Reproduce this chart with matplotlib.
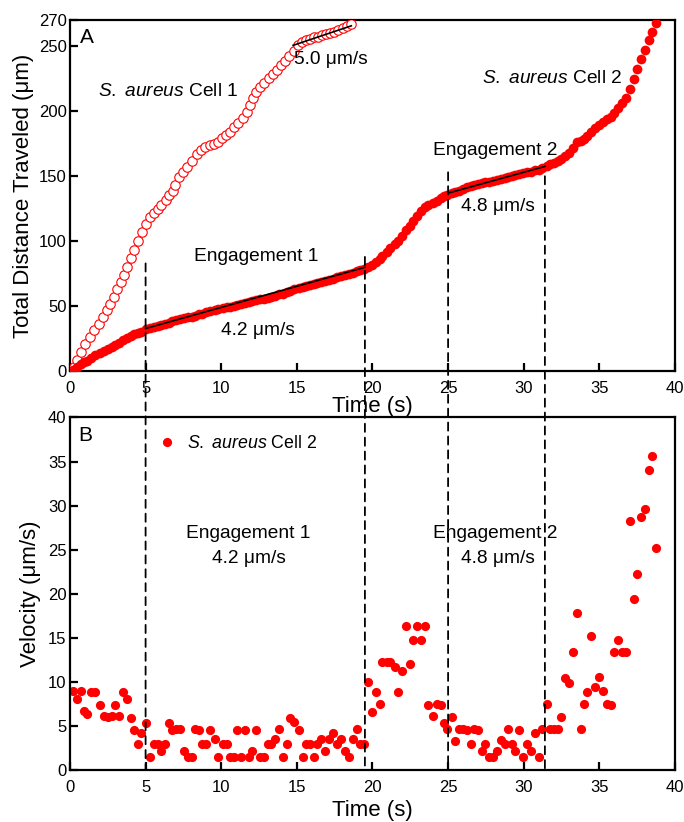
import numpy
import matplotlib.pyplot as plt
from matplotlib.patches import ConnectionPatch

plt.rcParams['font.family'] = ['Liberation Sans', 'DejaVu Sans']
plt.rcParams['mathtext.fontset'] = 'custom'
plt.rcParams['mathtext.rm'] = 'Liberation Sans'
plt.rcParams['mathtext.it'] = 'Liberation Sans:italic'

# S. aureus cell 1: total distance (um) vs time (s)
time_cell1 = [0.24, 0.46, 0.73, 1.00, 1.34, 1.60, 1.90, 2.18, 2.45, 2.66,
              2.88, 3.10, 3.37, 3.59, 3.77, 4.03, 4.25, 4.51, 4.76, 5.04,
              5.26, 5.53, 5.79, 6.01, 6.32, 6.58, 6.78, 6.96, 7.18, 7.47,
              7.77, 8.06, 8.39, 8.66, 8.94, 9.23, 9.49, 9.76, 10.05, 10.31,
              10.60, 10.86, 11.14, 11.43, 11.70, 11.92, 12.10, 12.31, 12.58, 12.84,
              13.13, 13.42, 13.68, 13.95, 14.23, 14.51, 14.78, 15.05, 15.32, 15.59,
              15.86, 16.13, 16.40, 16.67, 16.94, 17.21, 17.48, 17.75, 18.02, 18.29,
              18.56]
distance_cell1 = [3.3, 9.0, 14.8, 21.3, 26.4, 31.5, 36.7, 41.8, 46.9, 52.0,
                  57.2, 63.6, 68.7, 73.8, 80.2, 87.4, 93.6, 100.2, 107.2, 113.6,
                  118.7, 121.8, 125.1, 128.2, 131.5, 135.4, 139.0, 143.0, 149.5, 153.3,
                  157.2, 161.8, 167.4, 170.5, 172.5, 173.8, 175.1, 176.4, 179.0, 181.5,
                  184.1, 187.5, 191.0, 194.4, 199.5, 204.6, 209.8, 214.8, 218.7, 221.8,
                  225.1, 228.5, 231.5, 235.4, 238.7, 242.3, 246.5, 250.5, 253.0, 254.6,
                  255.7, 256.6, 257.3, 258.1, 258.9, 259.8, 260.9, 262.2, 263.6, 265.1,
                  266.9]

# S. aureus cell 2: time (s), total distance (um), velocity (um/s)
time_cell2 = [0.18, 0.45, 0.70, 0.90, 1.10, 1.38, 1.65, 1.96, 2.22, 2.49,
              2.76, 3.00, 3.27, 3.51, 3.78, 4.04, 4.25, 4.49, 4.71, 5.00,
              5.29, 5.56, 5.82, 6.04, 6.27, 6.53, 6.76, 7.02, 7.30, 7.51,
              7.78, 8.04, 8.27, 8.53, 8.76, 9.02, 9.29, 9.56, 9.78, 10.09,
              10.36, 10.58, 10.84, 11.02, 11.29, 11.56, 11.82, 12.04, 12.31, 12.58,
              12.84, 13.07, 13.29, 13.56, 13.82, 14.09, 14.36, 14.58, 14.84, 15.11,
              15.38, 15.60, 15.87, 16.13, 16.36, 16.62, 16.89, 17.11, 17.38, 17.64,
              17.91, 18.18, 18.44, 18.70, 18.95, 19.20, 19.45, 19.73, 19.95, 20.22,
              20.48, 20.66, 20.93, 21.19, 21.46, 21.70, 21.94, 22.20, 22.47, 22.69,
              22.95, 23.22, 23.48, 23.70, 23.97, 24.24, 24.50, 24.72, 24.94, 25.23,
              25.47, 25.70, 25.96, 26.23, 26.49, 26.71, 26.97, 27.22, 27.46, 27.72,
              27.99, 28.25, 28.48, 28.74, 28.96, 29.23, 29.44, 29.71, 29.97, 30.24,
              30.50, 30.73, 30.99, 31.21, 31.52, 31.74, 32.01, 32.27, 32.49, 32.72,
              32.98, 33.24, 33.51, 33.77, 33.99, 34.21, 34.45, 34.74, 35.00, 35.23,
              35.50, 35.76, 35.98, 36.25, 36.51, 36.78, 37.00, 37.26, 37.52, 37.78,
              38.02, 38.27, 38.50, 38.75]
distance_cell2 = [1.5, 3.5, 5.5, 7.0, 8.3, 10.3, 12.3, 14.3, 15.8, 17.3,
                  18.9, 20.5, 22.0, 24.0, 26.0, 27.5, 28.5, 29.5, 30.5, 32.5,
                  33.6, 34.4, 35.2, 35.8, 36.6, 37.6, 38.5, 39.4, 40.3, 40.9,
                  41.5, 42.1, 42.9, 43.8, 44.5, 45.3, 46.3, 47.2, 47.7, 48.6,
                  49.4, 49.9, 50.4, 51.2, 51.7, 52.6, 53.1, 54.0, 54.9, 55.4,
                  55.9, 56.7, 57.4, 58.3, 59.3, 59.8, 60.7, 61.9, 63.2, 64.3,
                  64.8, 65.6, 66.4, 66.9, 67.8, 68.8, 69.4, 70.3, 71.4, 72.3,
                  73.2, 73.9, 74.5, 75.5, 76.8, 77.7, 78.6, 80.5, 82.0, 84.3,
                  86.3, 88.5, 91.8, 95.0, 98.2, 100.4, 104.0, 108.5, 112.0, 115.5,
                  119.5, 123.0, 126.5, 127.9, 129.4, 131.3, 133.2, 134.4, 135.4, 137.1,
                  137.9, 139.0, 140.2, 141.4, 142.1, 143.1, 144.3, 144.8, 145.5, 145.9,
                  146.3, 146.9, 147.7, 148.4, 149.4, 150.2, 150.7, 151.9, 152.3, 153.1,
                  153.6, 154.6, 155.0, 156.0, 158.2, 159.2, 160.5, 161.7, 163.0, 165.4,
                  168.0, 171.4, 176.0, 177.2, 178.8, 180.8, 184.3, 187.0, 189.7, 191.8,
                  193.8, 195.7, 198.6, 202.6, 206.1, 209.7, 217.0, 225.0, 232.0, 240.0,
                  247.0, 255.0, 261.0, 268.0]
velocity_cell2 = [9.0, 8.0, 9.0, 6.7, 6.4, 8.9, 8.9, 7.4, 6.1, 6.0,
                  6.1, 7.4, 6.1, 8.9, 8.0, 5.9, 4.5, 3.0, 4.2, 5.3,
                  1.5, 3.0, 3.0, 2.1, 3.0, 5.3, 4.5, 4.7, 4.7, 2.1,
                  1.5, 1.5, 4.7, 4.5, 3.0, 3.0, 4.5, 3.5, 1.5, 3.0,
                  3.0, 1.5, 1.5, 4.5, 1.5, 4.5, 1.5, 2.1, 4.5, 1.5,
                  1.5, 3.0, 3.0, 3.5, 4.7, 1.5, 3.0, 5.9, 5.4, 4.5,
                  1.5, 3.0, 3.0, 1.5, 3.0, 3.5, 2.1, 3.5, 4.2, 3.0,
                  3.5, 2.1, 1.5, 3.5, 4.7, 2.9, 2.9, 10.0, 6.6, 8.9,
                  7.5, 12.2, 12.2, 12.2, 11.7, 8.9, 11.2, 16.3, 12.0, 14.8,
                  16.3, 14.8, 16.3, 7.4, 6.1, 7.5, 7.4, 5.3, 4.7, 6.0,
                  3.3, 4.7, 4.7, 4.5, 2.9, 4.7, 4.5, 2.1, 2.9, 1.5,
                  1.5, 2.1, 3.4, 2.9, 4.7, 2.9, 2.1, 4.5, 1.5, 2.9,
                  2.1, 4.2, 1.5, 4.7, 7.5, 4.7, 4.7, 4.7, 6.0, 10.4,
                  9.9, 13.4, 17.8, 4.7, 7.5, 8.9, 15.2, 9.4, 10.5, 9.0,
                  7.5, 7.4, 13.4, 14.8, 13.4, 13.4, 28.2, 19.4, 22.2, 28.7,
                  29.6, 34.0, 35.6, 25.2]

# linear fits over the engagement windows: (t_start, d_start, t_end, d_end)
fit_cell1 = [14.75, 250.5, 18.6, 265.5]
fit_engagement1 = [5.0, 33.0, 19.5, 80.0]
fit_engagement2 = [25.0, 137.0, 31.4, 157.5]

# engagement boundaries (s) and where each dashed marker starts in panel A (um)
boundary_times = [5.0, 19.5, 25.0, 31.4]
boundary_tops = [83, 88, 153, 150]

red = '#ff0000'
label_size = 16
text_size = 13.8
tick_size = 12
cell1_label = r'$\mathit{S.}$ $\mathit{aureus}$ Cell 1'
cell2_label = r'$\mathit{S.}$ $\mathit{aureus}$ Cell 2'


def style_axis(ax, xticks, yticks):
    for spine in ax.spines.values():
        spine.set_linewidth(1.6)
    ax.set_xticks(xticks)
    ax.set_yticks(yticks)
    ax.tick_params(direction='in', length=5.5, width=1.6, labelsize=tick_size)
    ax.tick_params(axis='x', pad=7.0)
    ax.tick_params(axis='y', pad=2.5)
    ax.set_xlim(0, 40)


fig = plt.figure(figsize=(6.84, 8.22), dpi=100)
ax_a = fig.add_axes([0.1023, 0.5481, 0.8845, 0.4276])
ax_b = fig.add_axes([0.1023, 0.0633, 0.8845, 0.4288])

# panel A: distance
ax_a.plot(time_cell1, distance_cell1, 'o', markersize=6.8, markerfacecolor='white',
          markeredgecolor=red, markeredgewidth=0.8, zorder=3)
ax_a.plot(time_cell2, distance_cell2, 'o', markersize=7.0, color=red, markeredgewidth=0, zorder=3)
for fit in [fit_cell1, fit_engagement1, fit_engagement2]:
    ax_a.plot([fit[0], fit[2]], [fit[1], fit[3]], color='black', linewidth=1.2, zorder=4)

style_axis(ax_a, [0, 5, 10, 15, 20, 25, 30, 35, 40], [0, 50, 100, 150, 200, 250, 270])
ax_a.set_ylim(0, 270)
ax_a.set_xlabel('Time (s)', fontsize=label_size, labelpad=0)
ax_a.set_ylabel('Total Distance Traveled (\u03bcm)', fontsize=label_size, labelpad=3)

ax_a.text(0.016, 0.978, 'A', transform=ax_a.transAxes, fontsize=15, va='top', ha='left')
ax_a.text(1.85, 215, cell1_label, fontsize=text_size, va='center', ha='left')
ax_a.text(14.8, 240, '5.0 \u03bcm/s', fontsize=text_size, va='center', ha='left')
ax_a.text(12.3, 88, 'Engagement 1', fontsize=text_size, va='center', ha='center')
ax_a.text(12.45, 31.5, '4.2 \u03bcm/s', fontsize=text_size, va='center', ha='center')
ax_a.text(31.9, 225, cell2_label, fontsize=text_size, va='center', ha='center')
ax_a.text(28.1, 170, 'Engagement 2', fontsize=text_size, va='center', ha='center')
ax_a.text(28.3, 126.5, '4.8 \u03bcm/s', fontsize=text_size, va='center', ha='center')

# panel B: velocity
ax_b.plot(time_cell2, velocity_cell2, 'o', markersize=6.6, color=red, markeredgewidth=0,
          label=cell2_label)
style_axis(ax_b, [0, 5, 10, 15, 20, 25, 30, 35, 40], [0, 5, 10, 15, 20, 25, 30, 35, 40])
ax_b.set_ylim(0, 40)
ax_b.set_xlabel('Time (s)', fontsize=label_size, labelpad=4)
ax_b.set_ylabel('Velocity (\u03bcm/s)', fontsize=label_size, labelpad=5)
ax_b.legend(loc='upper left', bbox_to_anchor=(0.12, 0.995), frameon=False,
            fontsize=12.8, handlelength=1.0, handletextpad=0.6, borderpad=0.4)

ax_b.text(0.014, 0.975, 'B', transform=ax_b.transAxes, fontsize=15, va='top', ha='left')
ax_b.text(11.8, 26.8, 'Engagement 1', fontsize=text_size, va='center', ha='center')
ax_b.text(11.8, 24.0, '4.2 \u03bcm/s', fontsize=text_size, va='center', ha='center')
ax_b.text(28.1, 26.8, 'Engagement 2', fontsize=text_size, va='center', ha='center')
ax_b.text(28.3, 24.0, '4.8 \u03bcm/s', fontsize=text_size, va='center', ha='center')

# dashed markers running from panel A down through panel B
for t, top in zip(boundary_times, boundary_tops):
    line = ConnectionPatch(xyA=(t, top), coordsA=ax_a.transData,
                           xyB=(t, 0), coordsB=ax_b.transData,
                           color='black', linewidth=1.3, linestyle=(0, (4.5, 3.2)), zorder=10)
    fig.add_artist(line)

plt.savefig('out.png', dpi=100)
plt.close()
